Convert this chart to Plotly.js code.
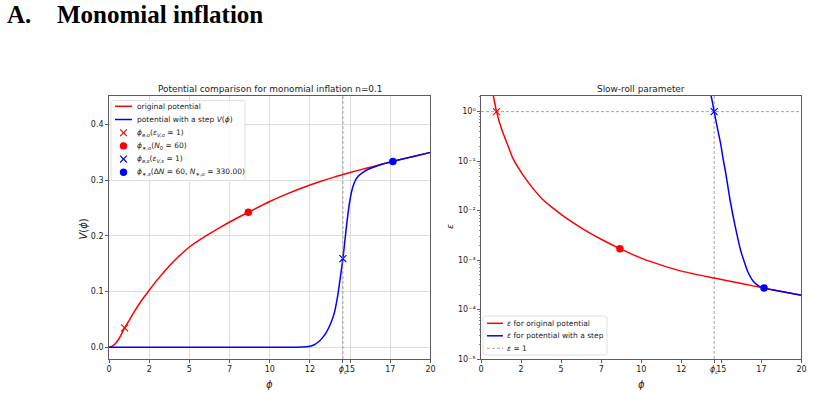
<!DOCTYPE html>
<html>
<head>
<meta charset="utf-8">
<script src="https://cdn.plot.ly/plotly-3.0.1.min.js"></script>
<style>
  html, body { margin: 0; padding: 0; background: #ffffff; }
  #chart { width: 814px; height: 395px; }
</style>
</head>
<body>
<div id="chart"></div>
<script>
// ---- potential V(phi): original monomial and the version with a step ----
const phiOrig = [0, 0.2, 0.4, 0.6, 0.8, 0.97, 1.25, 1.5, 2, 2.5, 3, 3.5, 4, 4.5, 5, 6, 7, 8, 8.67, 10, 11, 12, 13, 14, 15, 16, 17, 18, 19, 20];
const vOrig   = [0, 0.002, 0.007, 0.0145, 0.025, 0.035, 0.048, 0.0605, 0.083, 0.1025, 0.121, 0.138, 0.1535, 0.1675, 0.180, 0.1995, 0.2167, 0.2325, 0.2424, 0.2616, 0.2744, 0.2859, 0.2962, 0.3054, 0.3136, 0.3214, 0.3288, 0.3360, 0.3430, 0.3498];

const phiStep = [0, 11, 12, 12.5, 12.8, 13, 13.25, 13.5, 13.75, 14, 14.2, 14.35, 14.55, 14.7, 14.85, 15, 15.15, 15.3, 15.5, 15.8, 16.1, 16.5, 16.9, 17.3, 17.66, 18, 19, 20];
const vStep   = [0, 0, 0.0005, 0.002, 0.005, 0.009, 0.016, 0.026, 0.040, 0.060, 0.088, 0.117, 0.159, 0.198, 0.236, 0.266, 0.286, 0.298, 0.307, 0.314, 0.319, 0.3235, 0.3275, 0.331, 0.3336, 0.3360, 0.3430, 0.3498];

// ---- slow-roll parameter epsilon(phi) ----
const phiEpsOrig = [0.7, 0.97, 1.3, 1.71, 2, 2.5, 3, 3.8, 4.5, 5.06, 6.3, 7.5, 8.67, 10.07, 11.3, 12.58, 14.63, 16.34, 17.66, 18.5, 20];
const epsOrig    = [2.8, 1.0, 0.43, 0.195, 0.112, 0.060, 0.0355, 0.0174, 0.0112, 0.0081, 0.00437, 0.00263, 0.0017, 0.00107, 0.00078, 0.00059, 0.000427, 0.000331, 0.000271, 0.00024, 0.000195];

const phiEpsStep = [14.2, 14.36, 14.45, 14.55, 14.75, 14.96, 15.1, 15.27, 15.55, 15.85, 16.2, 16.45, 16.65, 17, 17.35, 17.66, 18.5, 20];
const epsStep    = [3.2, 2.07, 1.5, 1.0, 0.47, 0.22, 0.115, 0.0575, 0.0158, 0.005, 0.00158, 0.00088, 0.00058, 0.00037, 0.000298, 0.000271, 0.00024, 0.000195];

// ---- special points ----
const phiC = 14.55;                       // location of the step
const epsEnd = 1;                         // end of inflation, epsilon = 1
const phiEndOrig = 0.97,  vEndOrig = 0.035;
const phiStarOrig = 8.67, vStarOrig = 0.2424, epsStarOrig = 0.0017;
const phiEndStep = 14.55, vEndStep = 0.159;
const phiStarStep = 17.66, vStarStep = 0.3336, epsStarStep = 0.000271;

// ---- ticks ----
const xTickVals = [0, 2.5, 5, 7.5, 10, 12.5, phiC, 15, 17.5, 20];
const xTickText = ['0', '2', '5', '7', '10', '12', '<i>ϕ</i><sub>c</sub>', '15', '17', '20'];
const vTickVals = [0, 0.1, 0.2, 0.3, 0.4];
const vTickText = ['0.0', '0.1', '0.2', '0.3', '0.4'];
const epsTickVals = [1e-5, 1e-4, 1e-3, 1e-2, 1e-1, 1];
const epsTickText = ['10⁻⁵', '10⁻⁴', '10⁻³', '10⁻²', '10⁻¹', '10⁰'];

// ---- page geometry (pixels -> paper fractions) ----
const W = 814, H = 395;
const fx = p => p / W;
const fy = p => 1 - p / H;

const RED = '#ff0000', BLUE = '#0000ff', GREY = '#8c8c8c';
const FONT = 'DejaVu Sans, sans-serif';

const epsMinor = [];
for (let e = -5; e <= 0; e++) {
  for (let k = 2; k <= 9; k++) {
    const v = k * Math.pow(10, e);
    if (v < 2.05) epsMinor.push(v);
  }
}

const curve = c => ({ color: c, width: 1.5, shape: 'spline', smoothing: 0.7 });
const crossMarker = c => ({ symbol: 'x-thin', size: 7, color: c, line: { width: 1.2, color: c } });
const dotMarker = c => ({ symbol: 'circle', size: 7.5, color: c });

const traces = [
  // left panel
  { x: phiOrig, y: vOrig, xaxis: 'x', yaxis: 'y', mode: 'lines', line: curve(RED), showlegend: false, hoverinfo: 'skip' },
  { x: phiStep, y: vStep, xaxis: 'x', yaxis: 'y', mode: 'lines', line: curve(BLUE), showlegend: false, hoverinfo: 'skip' },
  { x: [phiEndOrig], y: [vEndOrig], xaxis: 'x', yaxis: 'y', mode: 'markers', marker: crossMarker(RED), showlegend: false },
  { x: [phiStarOrig], y: [vStarOrig], xaxis: 'x', yaxis: 'y', mode: 'markers', marker: dotMarker(RED), showlegend: false },
  { x: [phiEndStep], y: [vEndStep], xaxis: 'x', yaxis: 'y', mode: 'markers', marker: crossMarker(BLUE), showlegend: false },
  { x: [phiStarStep], y: [vStarStep], xaxis: 'x', yaxis: 'y', mode: 'markers', marker: dotMarker(BLUE), showlegend: false },
  // right panel
  { x: [0, 20], y: [epsEnd, epsEnd], xaxis: 'x2', yaxis: 'y2', mode: 'lines', line: { color: GREY, width: 0.8, dash: '3px,2px' }, showlegend: false, hoverinfo: 'skip' },
  { x: phiEpsOrig, y: epsOrig, xaxis: 'x2', yaxis: 'y2', mode: 'lines', line: curve(RED), showlegend: false, hoverinfo: 'skip' },
  { x: phiEpsStep, y: epsStep, xaxis: 'x2', yaxis: 'y2', mode: 'lines', line: curve(BLUE), showlegend: false, hoverinfo: 'skip' },
  { x: [phiEndOrig], y: [epsEnd], xaxis: 'x2', yaxis: 'y2', mode: 'markers', marker: crossMarker(RED), showlegend: false },
  { x: [phiStarOrig], y: [epsStarOrig], xaxis: 'x2', yaxis: 'y2', mode: 'markers', marker: dotMarker(RED), showlegend: false },
  { x: [phiEndStep], y: [epsEnd], xaxis: 'x2', yaxis: 'y2', mode: 'markers', marker: crossMarker(BLUE), showlegend: false },
  { x: [phiStarStep], y: [epsStarStep], xaxis: 'x2', yaxis: 'y2', mode: 'markers', marker: dotMarker(BLUE), showlegend: false }
];

const tickFont = { family: FONT, size: 8, color: '#222' };
const frame = { showline: true, linecolor: '#333', linewidth: 0.8, mirror: true, ticks: 'outside', ticklen: 3, tickwidth: 0.8, tickcolor: '#333', zeroline: false, tickfont: tickFont, automargin: false };

const xCommon = Object.assign({}, frame, { range: [0, 20], tickmode: 'array', tickvals: xTickVals, ticktext: xTickText, tickangle: 0 });

const layout = {
  width: W, height: H, autosize: false,
  margin: { l: 0, r: 0, t: 0, b: 0, pad: 0 },
  paper_bgcolor: '#ffffff', plot_bgcolor: '#ffffff',
  showlegend: false,
  font: { family: FONT, color: '#222' },
  xaxis: Object.assign({}, xCommon, { domain: [fx(109), fx(430.5)], anchor: 'y', showgrid: true, gridcolor: '#d4d4d4', gridwidth: 0.8 }),
  yaxis: Object.assign({}, frame, { domain: [fy(359), fy(96)], anchor: 'x', range: [-0.021, 0.451], tickmode: 'array', tickvals: vTickVals, ticktext: vTickText, showgrid: true, gridcolor: '#d4d4d4', gridwidth: 0.8 }),
  xaxis2: Object.assign({}, xCommon, { domain: [fx(481), fx(801.5)], anchor: 'y2', showgrid: false }),
  yaxis2: Object.assign({}, frame, {
    domain: [fy(359), fy(96)], anchor: 'x2', type: 'log', range: [-5, 0.316],
    tickmode: 'array', tickvals: epsTickVals, ticktext: epsTickText, showgrid: false,
    minor: { tickmode: 'array', tickvals: epsMinor, ticks: 'outside', ticklen: 1.6, tickwidth: 0.6, tickcolor: '#333', showgrid: false }
  }),
  shapes: [],
  annotations: []
};

// step location markers
layout.shapes.push({ type: 'line', xref: 'x', yref: 'y domain', x0: phiC, x1: phiC, y0: 0, y1: 1, line: { color: GREY, width: 0.8, dash: '3px,2px' }, layer: 'above' });
layout.shapes.push({ type: 'line', xref: 'x2', yref: 'y2 domain', x0: phiC, x1: phiC, y0: 0, y1: 1, line: { color: GREY, width: 0.8, dash: '3px,2px' }, layer: 'below' });

// ---- hand-built legends ----
function legendBox(l, t, r, b, rad) {
  const rx = rad / W, ry = rad / H;
  const L = fx(l), R = fx(r), T = fy(t), B = fy(b);
  const path = `M${L + rx},${T} L${R - rx},${T} Q${R},${T} ${R},${T - ry} L${R},${B + ry} Q${R},${B} ${R - rx},${B} L${L + rx},${B} Q${L},${B} ${L},${B + ry} L${L},${T - ry} Q${L},${T} ${L + rx},${T} Z`;
  return { type: 'path', xref: 'paper', yref: 'paper', path: path, fillcolor: 'rgba(255,255,255,0.85)', line: { color: '#d8d8d8', width: 0.8 }, layer: 'above' };
}
function lineKey(x0, x1, y, color, dash, width) {
  return { type: 'line', xref: 'paper', yref: 'paper', x0: fx(x0), x1: fx(x1), y0: fy(y), y1: fy(y), line: { color: color, width: width || 1.5, dash: dash || 'solid' }, layer: 'above' };
}
function crossKey(cx, cy, color) {
  const s = 3.4;
  return [
    { type: 'line', xref: 'paper', yref: 'paper', x0: fx(cx - s), x1: fx(cx + s), y0: fy(cy - s), y1: fy(cy + s), line: { color: color, width: 1.2 }, layer: 'above' },
    { type: 'line', xref: 'paper', yref: 'paper', x0: fx(cx - s), x1: fx(cx + s), y0: fy(cy + s), y1: fy(cy - s), line: { color: color, width: 1.2 }, layer: 'above' }
  ];
}
function dotKey(cx, cy, color) {
  const r = 3.7;
  return { type: 'circle', xref: 'paper', yref: 'paper', x0: fx(cx - r), x1: fx(cx + r), y0: fy(cy + r), y1: fy(cy - r), fillcolor: color, line: { color: color, width: 0 }, layer: 'above' };
}
function legendText(x, y, text) {
  return { xref: 'paper', yref: 'paper', x: fx(x), y: fy(y), xanchor: 'left', yanchor: 'middle', text: text, showarrow: false, borderpad: 0, borderwidth: 0, font: { family: FONT, size: 7.5, color: '#222' } };
}

// left legend
const rowsL = [106.3, 119.5, 132.7, 145.9, 159.1, 172.3];
const labelsL = [
  'original potential',
  'potential with a step <i>V</i>(<i>ϕ</i>)',
  '<i>ϕ</i><sub><i>e,o</i></sub>(<i>ε</i><sub><i>V,o</i></sub> = 1)',
  '<i>ϕ</i><sub>∗,<i>o</i></sub>(<i>N</i><sub>0</sub> = 60)',
  '<i>ϕ</i><sub><i>e,s</i></sub>(<i>ε</i><sub><i>V,s</i></sub> = 1)',
  '<i>ϕ</i><sub>∗,<i>s</i></sub>(Δ<i>N</i> = 60, <i>N</i><sub>∗,<i>o</i></sub> = 330.00)'
];
layout.shapes.push(legendBox(111, 100.5, 245, 180.5, 2));
layout.shapes.push(lineKey(115, 132, rowsL[0], RED));
layout.shapes.push(lineKey(115, 132, rowsL[1], BLUE));
layout.shapes.push(...crossKey(123.5, rowsL[2], RED));
layout.shapes.push(dotKey(123.5, rowsL[3], RED));
layout.shapes.push(...crossKey(123.5, rowsL[4], BLUE));
layout.shapes.push(dotKey(123.5, rowsL[5], BLUE));
labelsL.forEach((t, i) => layout.annotations.push(legendText(136.5, rowsL[i], t)));

// right legend
const rowsR = [323.3, 335.8, 348.3];
const labelsR = ['<i>ε</i> for original potential', '<i>ε</i> for potential with a step', '<i>ε</i> = 1'];
layout.shapes.push(legendBox(483, 316, 607, 355, 2));
layout.shapes.push(lineKey(487, 503, rowsR[0], RED));
layout.shapes.push(lineKey(487, 503, rowsR[1], BLUE));
layout.shapes.push(lineKey(487, 503, rowsR[2], GREY, '3px,2px', 0.8));
labelsR.forEach((t, i) => layout.annotations.push(legendText(506.5, rowsR[i], t)));

// ---- titles and axis labels ----
function label(x, y, text, size, extra) {
  return Object.assign({ xref: 'paper', yref: 'paper', x: fx(x), y: fy(y), xanchor: 'center', yanchor: 'middle', text: text, showarrow: false, borderpad: 0, borderwidth: 0, font: { family: FONT, size: size, color: '#222' } }, extra || {});
}
layout.annotations.push(label(269.8, 89, 'Potential comparison for monomial inflation n=0.1', 8.9));
layout.annotations.push(label(641.2, 89, 'Slow-roll parameter', 8.9));
layout.annotations.push(label(269.8, 384, '<i>ϕ</i>', 10));
layout.annotations.push(label(641.2, 384, '<i>ϕ</i>', 10));
layout.annotations.push(label(82.5, 229, '<i>V</i>(<i>ϕ</i>)', 10, { textangle: -90 }));
layout.annotations.push(label(450, 227, '<i>ε</i>', 9, { textangle: -90 }));

// section heading
const headFont = { family: 'Liberation Serif, Times New Roman, serif', size: 25, color: '#000' };
layout.annotations.push({ xref: 'paper', yref: 'paper', x: fx(6.5), y: fy(0.5), xanchor: 'left', yanchor: 'top', text: '<b>A.</b>', showarrow: false, borderpad: 0, borderwidth: 0, font: headFont });
layout.annotations.push({ xref: 'paper', yref: 'paper', x: fx(57), y: fy(0.5), xanchor: 'left', yanchor: 'top', text: '<b>Monomial inflation</b>', showarrow: false, borderpad: 0, borderwidth: 0, font: headFont });

Plotly.newPlot('chart', traces, layout, { staticPlot: true, displayModeBar: false });
</script>
</body>
</html>
